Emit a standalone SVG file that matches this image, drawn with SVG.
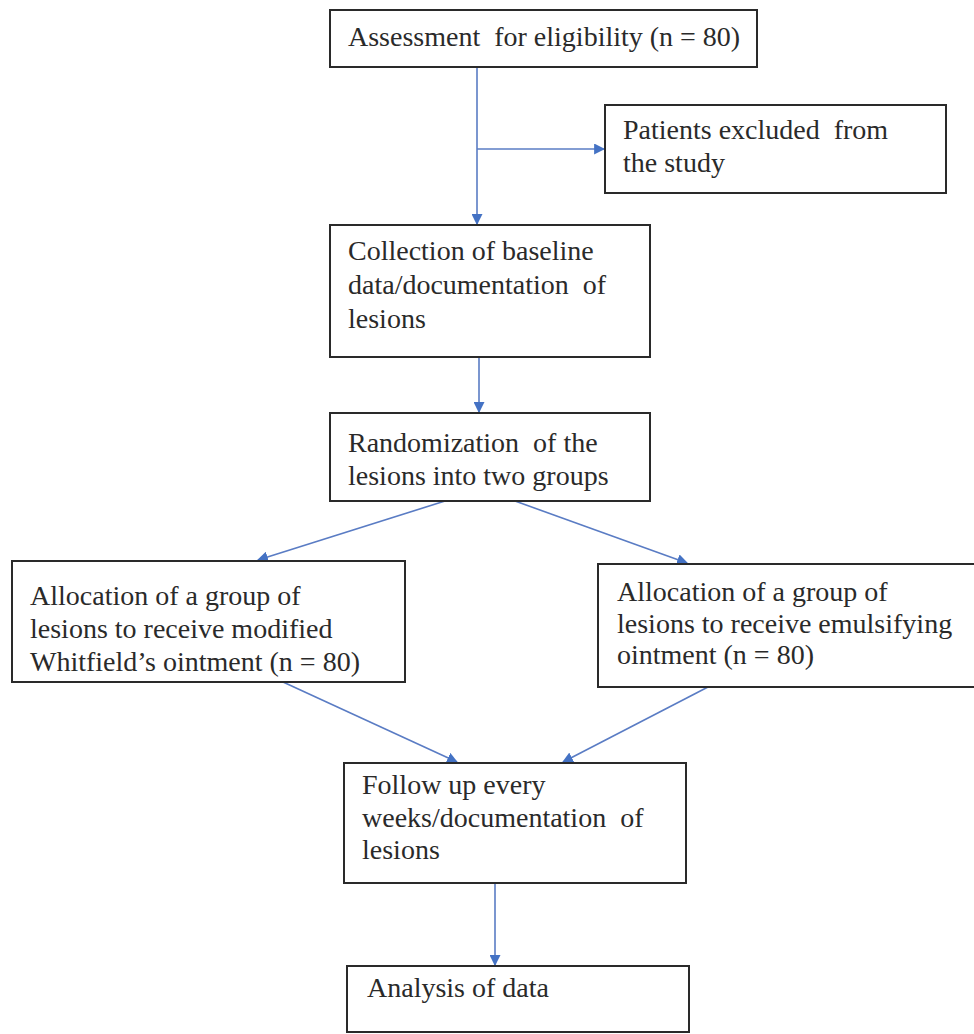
<svg xmlns="http://www.w3.org/2000/svg" width="974" height="1034" viewBox="0 0 974 1034">
<style>
.box{fill:#fff;stroke:#2a2a2a;stroke-width:2}
.t{font-family:"Liberation Serif","Times New Roman",serif;font-size:28px;fill:#2a2a2a;white-space:pre}
.c{stroke:#5a7cc4;stroke-width:1.6;fill:none}
</style>
<defs>
<marker id="ah" viewBox="0 0 10 10" refX="9" refY="5" markerWidth="11" markerHeight="11" markerUnits="userSpaceOnUse" orient="auto">
<path d="M0,0 L10,5 L0,10 z" fill="#4472c4"/>
</marker>
</defs>
<rect width="974" height="1034" fill="#fff"/>
<g id="connectors">
<line class="c" x1="477" y1="67" x2="477" y2="224" marker-end="url(#ah)"/>
<line class="c" x1="477" y1="149" x2="604" y2="149" marker-end="url(#ah)"/>
<line class="c" x1="479" y1="357" x2="479" y2="412" marker-end="url(#ah)"/>
<line class="c" x1="445" y1="501" x2="258" y2="560" marker-end="url(#ah)"/>
<line class="c" x1="515" y1="501" x2="687" y2="563" marker-end="url(#ah)"/>
<line class="c" x1="283" y1="682" x2="457" y2="762" marker-end="url(#ah)"/>
<line class="c" x1="708" y1="687" x2="563" y2="762" marker-end="url(#ah)"/>
<line class="c" x1="495" y1="883" x2="495" y2="965" marker-end="url(#ah)"/>
</g>
<g id="assessment">
<rect class="box" x="330" y="10" width="427" height="57"/>
<text class="t" x="348" y="46" xml:space="preserve">Assessment  for eligibility (n = 80)</text>
</g>
<g id="excluded">
<rect class="box" x="605" y="105" width="341" height="88"/>
<text class="t" x="623" y="139" xml:space="preserve">Patients excluded  from</text>
<text class="t" x="623" y="172">the study</text>
</g>
<g id="collection">
<rect class="box" x="330" y="225" width="320" height="132"/>
<text class="t" x="348" y="260">Collection of baseline</text>
<text class="t" x="348" y="294" xml:space="preserve">data/documentation  of</text>
<text class="t" x="348" y="328">lesions</text>
</g>
<g id="randomization">
<rect class="box" x="330" y="413" width="320" height="88"/>
<text class="t" x="348" y="452" xml:space="preserve">Randomization  of the</text>
<text class="t" x="348" y="485">lesions into two groups</text>
</g>
<g id="whitfield">
<rect class="box" x="12" y="561" width="393" height="121"/>
<text class="t" x="30" y="605">Allocation of a group of</text>
<text class="t" x="30" y="638">lesions to receive modified</text>
<text class="t" x="30" y="671">Whitfield’s ointment (n = 80)</text>
</g>
<g id="emulsifying">
<rect class="box" x="598" y="564" width="390" height="123"/>
<text class="t" x="617" y="601">Allocation of a group of</text>
<text class="t" x="617" y="633">lesions to receive emulsifying</text>
<text class="t" x="617" y="664">ointment (n = 80)</text>
</g>
<g id="followup">
<rect class="box" x="344" y="763" width="342" height="120"/>
<text class="t" x="362" y="794">Follow up every</text>
<text class="t" x="362" y="827" xml:space="preserve">weeks/documentation  of</text>
<text class="t" x="362" y="859">lesions</text>
</g>
<g id="analysis">
<rect class="box" x="347" y="966" width="342" height="66"/>
<text class="t" x="367" y="997">Analysis of data</text>
</g>
</svg>
